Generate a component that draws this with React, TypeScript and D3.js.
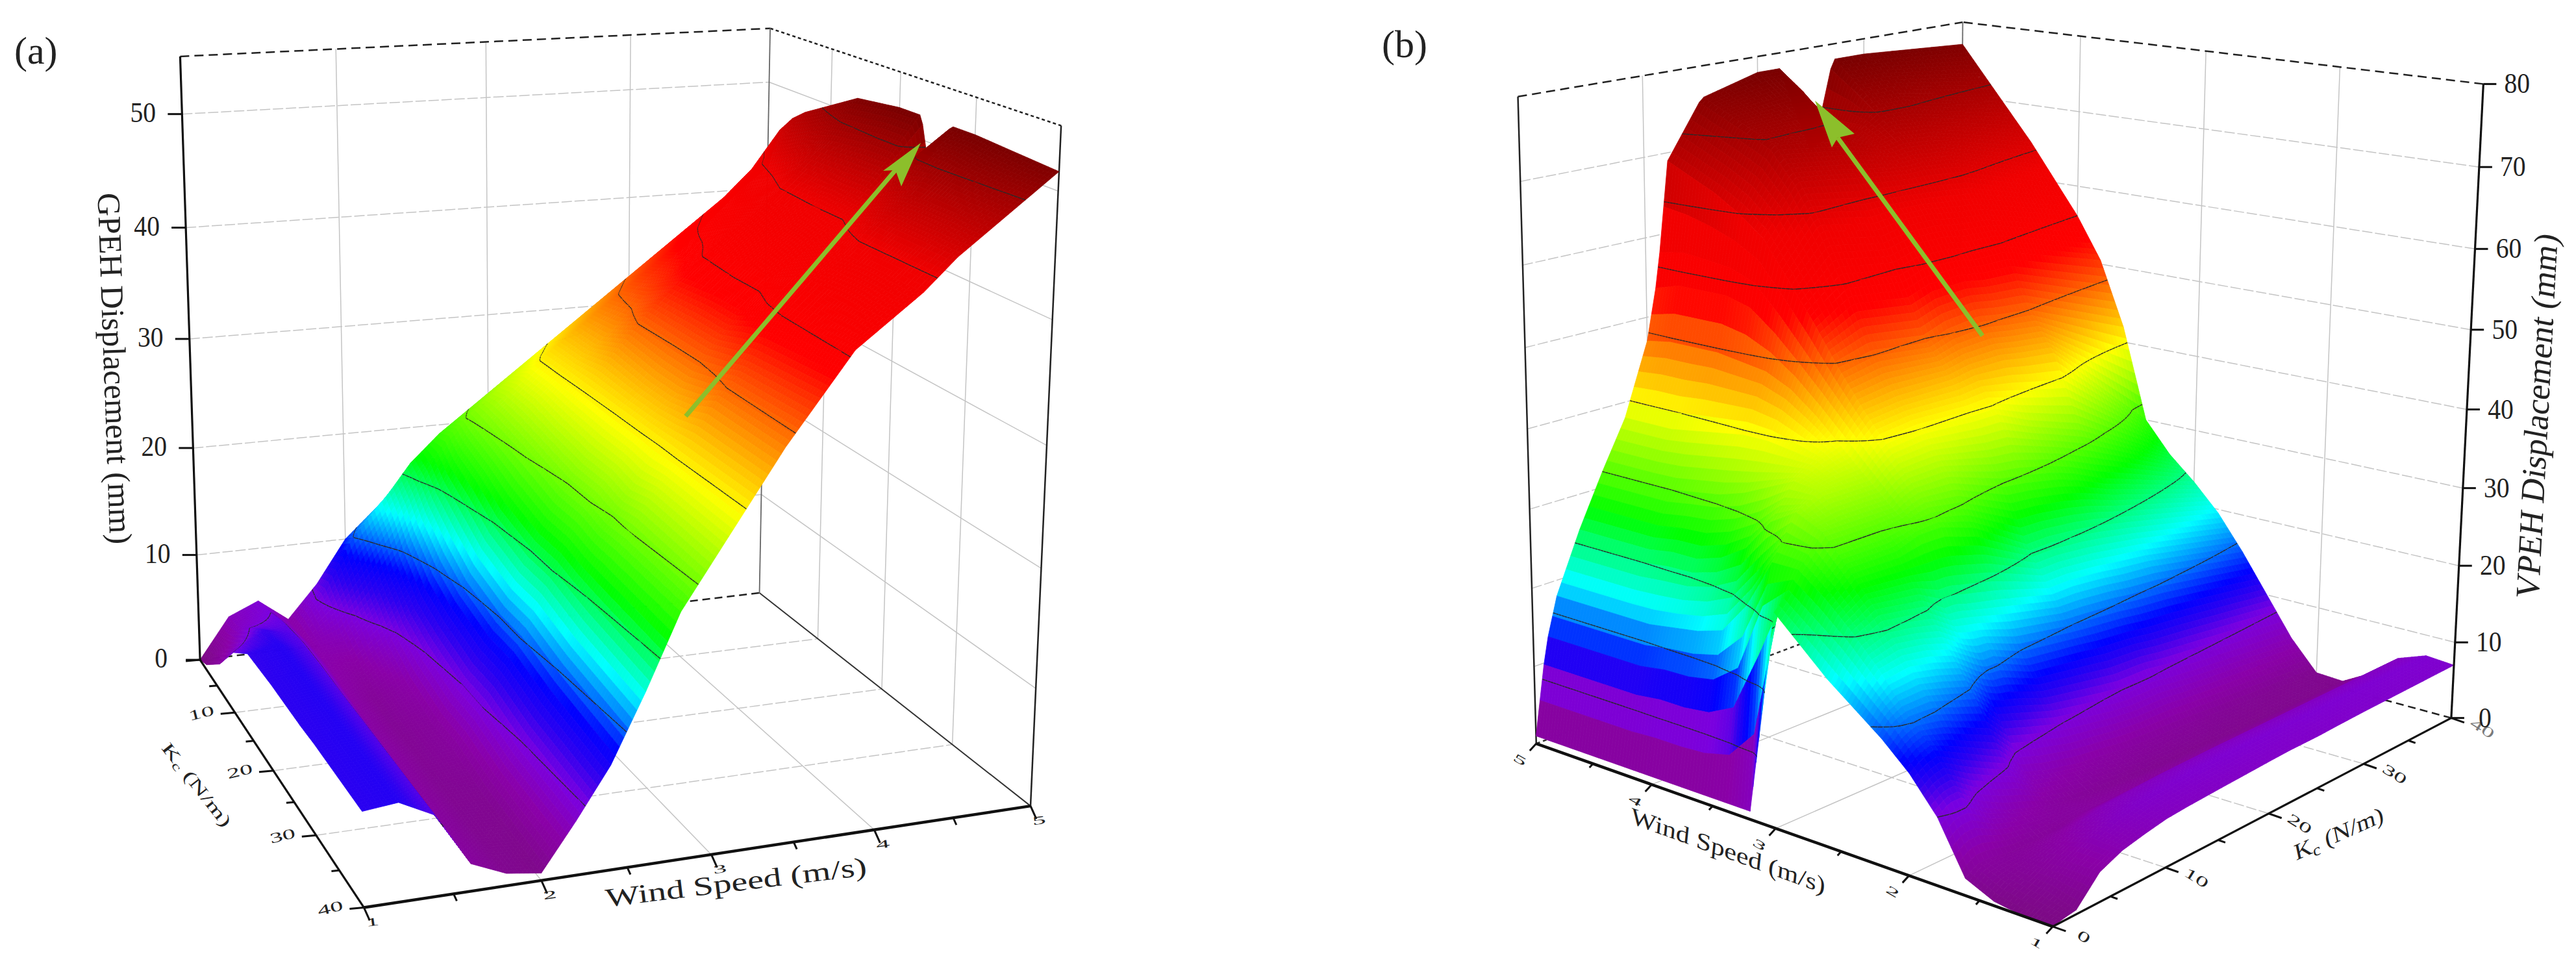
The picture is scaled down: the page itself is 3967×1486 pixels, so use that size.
import React, { useRef, useEffect } from 'react';
import * as d3 from 'd3';

// wind speed columns, shared by both surfaces
const windSpeeds = [1, 1.2, 1.4, 1.6, 1.8, 2, 2.2, 2.4, 2.6, 2.8, 3, 3.2, 3.4, 3.6, 3.8, 4, 4.2, 4.4, 4.6, 4.8, 5];

// GPEH surface, one row per Kc value
const gpehK = [0, 2, 4, 6, 10, 14, 20, 23, 24, 27, 30, 40];
const gpehZ = [
  [0, 3.8, 5, 2.9, 6, 10, 12.5, 15, 17, 19, 21, 23, 25, 27, 29, 31, 33, 35, 37.5, 40, 42],
  [0.5, 4, 5.2, 3, 6.5, 11, 14, 17.5, 20, 22, 24, 26, 28, 30, 32, 34, 36, 38, 40, 42.5, 46],
  [1.5, 4.5, 5.6, 3, 5.5, 9, 12.5, 16.5, 20.5, 23, 25, 27, 29, 31, 33, 35, 37, 39, 41, 44, 47.5],
  [2.5, 5.5, 6, 3.2, 4, 7, 10.5, 15, 19.5, 23, 25.5, 28, 30, 32, 34, 36, 38, 40, 42.5, 45.5, 48.5],
  [5.5, 7.2, 6.4, 3.2, 2.5, 4.5, 8, 13, 18.5, 22.5, 25.5, 28, 30, 32.5, 35, 37, 39.5, 41.5, 44, 47, 50],
  [7.3, 7.8, 6.5, 3, 1.6, 3, 7, 11.5, 17, 22, 25, 28, 31, 34, 36.5, 39, 41, 43, 45.5, 48, 51.5],
  [7.5, 7.9, 6.5, 2.6, 1.4, 2, 6, 10.5, 16, 21, 24.5, 28, 30.5, 34, 37, 39.5, 41.5, 43.5, 45.5, 48.5, 52],
  [7.5, 7.9, 6.5, 2.6, 1.4, 2, 6, 10.5, 16, 21, 24.5, 28, 30.5, 34, 37, 39.5, 41.5, 43.5, 45.5, 48.5, 52],
  [7.5, 7.9, 6.5, 2.6, 1.4, 2, 6, 10.5, 16, 21, 24.5, 28, 30.5, 34, 37, 39.5, 41.5, 43.5, 45.5, 47.5, 48.5],
  [7.5, 7.9, 6.5, 2.5, 1.3, 1.6, 5.5, 10, 15.5, 20.5, 24, 28, 31, 34.5, 38, 40.5, 42.5, 44.5, 46.5, 50, 52],
  [7.6, 7.9, 6.5, 2.4, 1.2, 1.2, 5, 9.5, 15, 20.5, 24.5, 28, 32, 35, 38.5, 41, 43, 45.5, 47.5, 50, 52],
  [7.6, 7.9, 6.5, 2.2, 1, 0.6, 4.4, 8.5, 14, 20, 24, 28, 32, 35.5, 39, 41, 43, 45.5, 47.5, 49.5, 51.5],
];

// VPEH surface
const vpehK = [0, 1, 2, 4, 6, 8, 10, 11, 12, 15, 20, 22, 25, 27, 30, 40];
const vpehZ = [
  [0, 0, 0.5, 2, 8, 12, 15, 17.5, 20, 23, 26, 1, 1, 1, 1, 1, 1, 1, 1, 1, 1],
  [0.3, 0.8, 1.5, 3, 9, 13, 16.5, 19.5, 22.5, 25, 27.5, 24, 15, 13, 12.5, 12.5, 12, 12, 12, 12, 12],
  [0.5, 1.5, 2, 3, 9, 13.5, 17, 21, 24.5, 27.5, 30, 30, 24, 20, 19, 18.5, 18, 18, 18, 18, 18],
  [3.5, 3.5, 3, 2.5, 6.5, 12, 17, 21.5, 26, 30, 33.5, 35, 33, 29, 27, 26, 26, 25.5, 25.5, 25.5, 25.5],
  [4.7, 5, 4, 2.5, 5, 10.5, 16, 21, 25.5, 30, 33.5, 36.5, 37, 35.5, 34, 33, 32.5, 32, 32, 32, 32],
  [5.3, 6, 5, 2.5, 4, 9, 15, 20, 25, 30, 33.5, 36.5, 38.5, 39, 39.5, 39.5, 39, 38.5, 38, 38, 38],
  [5.8, 6.6, 5.5, 3, 3, 6, 12, 18, 23, 31, 33.5, 36.5, 39.5, 42.5, 45, 46.5, 47, 47.5, 47.5, 47.5, 47],
  [5.9, 6.8, 5.6, 3, 2.8, 5.5, 11.5, 17, 23, 31, 34.5, 38, 41.5, 45, 48.5, 52, 55, 56, 56, 56, 55],
  [6, 6.9, 5.7, 3, 2.5, 5, 11, 17, 22.5, 31, 35, 39, 43, 47.5, 52.5, 57, 61.5, 64, 66, 67.5, 69],
  [6.2, 7.2, 5.9, 3, 2, 4, 9.5, 15, 21.5, 29.5, 35, 39.5, 43.5, 48.5, 55.5, 62, 67.5, 71.5, 73, 74.5, 76],
  [6.5, 7.3, 6, 3, 1.5, 3, 8, 14, 19.5, 25, 32.5, 39, 43.5, 47.5, 54.5, 60.5, 66.5, 70.5, 73, 75.5, 78],
  [6.6, 7.3, 6, 3, 1.4, 2.8, 7.5, 13.5, 19.5, 25, 32, 39, 44, 48.5, 55.5, 61, 66, 70, 72.5, 75.5, 78],
  [6.6, 7.3, 6, 3, 1.4, 2.6, 7.5, 13, 19, 24.5, 31, 37, 44, 49, 55.5, 61, 65.5, 68.5, 70, 69, 66],
  [6.7, 7.3, 6, 3, 1.3, 2.4, 7, 12.5, 18.5, 24, 30, 36, 43.5, 48.5, 55, 60.5, 65.5, 69, 72, 75, 78],
  [6.8, 7.3, 6, 3, 1.2, 2, 6.5, 12, 18, 23, 28, 34.5, 43, 48, 55, 60, 65, 68.5, 72, 75, 78],
  [7, 7.3, 6, 3, 1, 1.2, 5, 10, 15, 19.5, 23, 26, 30, 42, 50.5, 56, 60.5, 65, 69, 73, 77],
];

const rainbow = ['#7c0a84', '#8a00a8', '#7a00e0', '#2c00f0', '#0000ff', '#00ffff', '#00ff00', '#ffff00', '#ff0000', '#f00000', '#780000'];
const gpehStops = [0, 3, 5.5, 7.5, 9.5, 13.5, 18, 27, 37, 44, 52];
const vpehStops = [0, 4, 8.5, 11, 13, 20, 28, 40, 53, 62, 78];

const windTicks = [1, 2, 3, 4, 5];
const windMinor = [1.5, 2.5, 3.5, 4.5];
const kTicks = [0, 10, 20, 30, 40];
const kMinor = [5, 15, 25, 35];

// where the box corners and ticks sit on the page: [wind, Kc, z, px, py]
const gpehCamera = [
  [1, 0, 0, 311, 1016], [1, 0, 10, 304, 854], [1, 0, 20, 298, 690], [1, 0, 30, 293, 522], [1, 0, 40, 286, 351],
  [1, 0, 50, 279, 176], [1, 0, 55, 277, 87], [1, 10, 0, 360, 1097], [1, 20, 0, 415, 1187], [1, 30, 0, 485, 1288],
  [1, 40, 0, 564, 1396], [2, 40, 0, 835, 1356], [3, 40, 0, 1097, 1313], [4, 40, 0, 1347, 1280], [5, 40, 0, 1587, 1242],
  [5, 0, 0, 1168, 913], [5, 0, 55, 1188, 43], [5, 40, 55, 1635, 195], [5, 40, 10, 1594, 1060], [5, 40, 20, 1605, 874],
  [5, 40, 30, 1612, 687], [5, 40, 40, 1620, 493], [5, 40, 50, 1627, 292],
];
const vpehCamera = [
  [1, 40, 0, 3778, 1101], [1, 40, 10, 3783, 988], [1, 40, 20, 3789, 870], [1, 40, 30, 3792, 751], [1, 40, 40, 3798, 632],
  [1, 40, 50, 3805, 510], [1, 40, 60, 3810, 384], [1, 40, 70, 3816, 260], [1, 40, 80, 3822, 129],
  [1, 0, 0, 3155, 1428], [1, 10, 0, 3338, 1337], [1, 20, 0, 3495, 1252], [1, 30, 0, 3645, 1175],
  [2, 0, 0, 2934, 1349], [3, 0, 0, 2733, 1276], [4, 0, 0, 2547, 1210], [5, 0, 0, 2375, 1144],
  [5, 40, 0, 3003, 903], [5, 40, 80, 3031, 33], [5, 0, 80, 2333, 146],
];

// plain least squares for the 11 term camera
function fitCamera(pts, zTop) {
  const A = [];
  const b = [];
  pts.forEach(([w, k, z, px, py]) => {
    const u = (w - 1) / 4, v = k / 40, s = z / zTop, x = px / 1000, y = py / 1000;
    A.push([u, v, s, 1, 0, 0, 0, 0, -x * u, -x * v, -x * s]); b.push(x);
    A.push([0, 0, 0, 0, u, v, s, 1, -y * u, -y * v, -y * s]); b.push(y);
  });
  const n = 11;
  const M = d3.range(n).map(i => d3.range(n + 1).map(j =>
    j < n ? d3.sum(A, r => r[i] * r[j]) : d3.sum(A, (r, q) => r[i] * b[q])));
  for (let c = 0; c < n; c++) {
    let best = c;
    for (let r = c + 1; r < n; r++) if (Math.abs(M[r][c]) > Math.abs(M[best][c])) best = r;
    [M[c], M[best]] = [M[best], M[c]];
    for (let r = 0; r < n; r++) {
      if (r === c) continue;
      const f = M[r][c] / M[c][c];
      for (let j = c; j <= n; j++) M[r][j] -= f * M[c][j];
    }
  }
  const p = M.map((r, i) => r[n] / r[i]);
  return (w, k, z) => {
    const u = (w - 1) / 4, v = k / 40, s = z / zTop;
    const d = p[8] * u + p[9] * v + p[10] * s + 1;
    return [1000 * (p[0] * u + p[1] * v + p[2] * s + p[3]) / d, 1000 * (p[4] * u + p[5] * v + p[6] * s + p[7]) / d];
  };
}

function sampleSurface(grid, ks, w, k) {
  const i = Math.min(d3.bisectRight(windSpeeds, w) - 1, windSpeeds.length - 2);
  const j = Math.min(d3.bisectRight(ks, k) - 1, ks.length - 2);
  const a = (w - windSpeeds[i]) / (windSpeeds[i + 1] - windSpeeds[i]);
  const c = (k - ks[j]) / (ks[j + 1] - ks[j]);
  return (1 - c) * ((1 - a) * grid[j][i] + a * grid[j][i + 1]) + c * ((1 - a) * grid[j + 1][i] + a * grid[j + 1][i + 1]);
}

const panels = [
  {
    label: '(a)', labelPos: [22, 98],
    camera: gpehCamera, ks: gpehK, grid: gpehZ, stops: gpehStops, zTop: 55, zTicks: [0, 10, 20, 30, 40, 50],
    levels: d3.range(1, 10).map(i => i * 5.5), farK: 0, nearK: 40,
    kOrder: d3.ascending,
    zTick: [-22, 0], zLabel: [-60, 12], zAnchor: 'middle',
    kTick: [-22, 2], kLabel: [-50, 8], kLabelTf: 'rotate(-14) scale(1,0.55)',
    wTick: [9, 20], wLabel: [14, 18], wLabelTf: 'rotate(-8) scale(1,0.42)',
    zTitle: { text: 'GPEH Displacement (mm)', at: [160, 568], tf: 'rotate(88)', size: 50 },
    wTitle: { at: [1135, 1372], tf: 'rotate(-7) scale(1,0.72)', size: 56 },
    kTitle: { at: [296, 1214], tf: 'rotate(52) scale(1,0.62)', size: 42 },
    arrow: { tail: [1056, 641], tip: [1418, 220], wings: [[1360, 263], [1388, 287]], neck: [1379, 262] },
  },
  {
    label: '(b)', labelPos: [2128, 88],
    camera: vpehCamera, ks: vpehK, grid: vpehZ, stops: vpehStops, zTop: 80, zTicks: [0, 10, 20, 30, 40, 50, 60, 70, 80],
    levels: d3.range(1, 10).map(i => i * 8), farK: 40, nearK: 0,
    kOrder: d3.descending,
    zTick: [20, 0], zLabel: [52, 14], zAnchor: 'middle',
    kTick: [20, 7], kLabel: [44, 22], kLabelTf: 'rotate(32) scale(1,0.55)',
    wTick: [-10, 11], wLabel: [-28, 20], wLabelTf: 'rotate(30) scale(1,0.42)',
    zTitle: { text: 'VPEH Displacement (mm)', at: [3924, 644], tf: 'rotate(-87) skewX(-8)', size: 52 },
    wTitle: { at: [2660, 1322], tf: 'rotate(20) skewX(14) scale(1,0.8)', size: 44 },
    kTitle: { at: [3604, 1295], tf: 'rotate(-24) skewX(-12) scale(1,0.85)', size: 40 },
    arrow: { tail: [3053, 517], tip: [2795, 155], wings: [[2821, 227], [2856, 206]], neck: [2830, 212] },
  },
];

const FONT = "'Liberation Serif', serif";
const lineGen = d3.line();

function drawPanel(svg, cfg) {
  const project = fitCamera(cfg.camera, cfg.zTop);
  const g = svg.append('g');
  const seg = (a, b, stroke, width, dash) =>
    g.append('path').attr('d', lineGen([project(...a), project(...b)])).attr('fill', 'none')
      .attr('stroke', stroke).attr('stroke-width', width).attr('stroke-dasharray', dash || null);

  const { farK, nearK, zTop } = cfg;
  const gridC = '#c4c4c4';
  // walls and floor
  [2, 3, 4].forEach(w => {
    seg([w, farK, 0], [w, farK, zTop], gridC, 1.5);
    seg([w, 0, 0], [w, 40, 0], gridC, 1.5);
  });
  [10, 20, 30].forEach(k => {
    seg([5, k, 0], [5, k, zTop], gridC, 1.5);
    seg([1, k, 0], [5, k, 0], gridC, 1.5, '16 4');
  });
  cfg.zTicks.filter(z => z > 0 && z < zTop).forEach(z => {
    seg([1, farK, z], [5, farK, z], gridC, 1.5, '16 4');
    seg([5, 0, z], [5, 40, z], gridC, 1.5, farK === 0 ? null : '16 4');
  });
  // box edges
  seg([1, farK, zTop], [5, farK, zTop], '#222', 2.5, '14 8');
  seg([5, 0, zTop], [5, 40, zTop], '#222', 2.5, farK === 0 ? '5 4' : '14 8');
  seg([1, farK, 0], [5, farK, 0], '#222', 2.5, '12 7');
  seg([5, 0, 0], [5, 40, 0], '#333', farK === 0 ? 2 : 2.5, farK === 0 ? null : '6 5');
  seg([5, farK, 0], [5, farK, zTop], '#666', 1.8);
  seg([5, nearK, 0], [5, nearK, zTop], '#222', 2.5);

  // surface, back to front
  const fineW = d3.range(5, 1, -0.025).concat([1]);
  const fineK = d3.range(0, 40, 0.4).concat([40]).sort(cfg.kOrder);
  const color = d3.scaleLinear().domain(cfg.stops).range(rainbow).clamp(true);
  const items = [];
  for (let a = 0; a < fineW.length - 1; a++) {
    for (let b = 0; b < fineK.length - 1; b++) {
      const corners = [[fineW[a], fineK[b]], [fineW[a + 1], fineK[b]], [fineW[a + 1], fineK[b + 1]], [fineW[a], fineK[b + 1]]]
        .map(([w, k]) => {
          const z = sampleSurface(cfg.grid, cfg.ks, w, k);
          return { z, p: project(w, k, z) };
        });
      const c = color(d3.mean(corners, d => d.z));
      items.push({ d: lineGen(corners.map(d => d.p)) + 'Z', fill: c, stroke: c, w: 0.8 });
      cfg.levels.forEach(level => {
        const hits = [];
        corners.forEach((q, i) => {
          const r = corners[(i + 1) % 4];
          if ((q.z < level) !== (r.z < level)) {
            const t = (level - q.z) / (r.z - q.z);
            hits.push([q.p[0] + t * (r.p[0] - q.p[0]), q.p[1] + t * (r.p[1] - q.p[1])]);
          }
        });
        if (hits.length >= 2) items.push({ d: lineGen(hits.slice(0, 2)), fill: 'none', stroke: '#2a2a2a', w: 1.4 });
      });
    }
  }
  g.append('g').selectAll('path').data(items).join('path')
    .attr('d', d => d.d).attr('fill', d => d.fill).attr('stroke', d => d.stroke).attr('stroke-width', d => d.w);

  // axes on top
  seg([1, farK, 0], [1, farK, zTop], '#111', 3.2);
  seg([1, 0, 0], [1, 40, 0], '#111', 3.2);
  seg([1, nearK, 0], [5, nearK, 0], '#111', 4.5);

  const tick = (pt, dir, len) => {
    const [x, y] = project(...pt);
    g.append('path').attr('d', lineGen([[x, y], [x + dir[0] * len, y + dir[1] * len]]))
      .attr('stroke', '#111').attr('stroke-width', 3).attr('fill', 'none');
  };
  const text = (str, x, y, size, tf, anchor = 'middle') =>
    g.append('text').attr('transform', `translate(${x},${y}) ${tf || ''}`).attr('text-anchor', anchor)
      .attr('font-family', FONT).attr('font-size', size).attr('fill', '#222').text(str);

  cfg.zTicks.forEach(z => {
    const [x, y] = project(1, farK, z);
    tick([1, farK, z], cfg.zTick, 1);
    text(z, x + cfg.zLabel[0], y + cfg.zLabel[1], 44, 'scale(0.9,1)');
  });
  kTicks.forEach(k => {
    const [x, y] = project(1, k, 0);
    tick([1, k, 0], cfg.kTick, 1);
    if (k !== farK) text(k, x + cfg.kLabel[0], y + cfg.kLabel[1], 40, cfg.kLabelTf);
  });
  if (farK === 40) {
    const [x, y] = project(1, 40, 0);
    text(40, x + cfg.kLabel[0], y + cfg.kLabel[1], 40, cfg.kLabelTf).attr('opacity', 0.6);
  }
  kMinor.forEach(k => tick([1, k, 0], cfg.kTick, 0.55));
  windTicks.forEach(w => {
    const [x, y] = project(w, nearK, 0);
    tick([w, nearK, 0], cfg.wTick, 1);
    text(w, x + cfg.wLabel[0], y + cfg.wLabel[1] + 10, 42, cfg.wLabelTf);
  });
  windMinor.forEach(w => tick([w, nearK, 0], cfg.wTick, 0.55));

  text(cfg.zTitle.text, cfg.zTitle.at[0], cfg.zTitle.at[1], cfg.zTitle.size, cfg.zTitle.tf);
  text('Wind Speed (m/s)', cfg.wTitle.at[0], cfg.wTitle.at[1], cfg.wTitle.size, cfg.wTitle.tf);
  const kt = text('', cfg.kTitle.at[0], cfg.kTitle.at[1], cfg.kTitle.size, cfg.kTitle.tf);
  kt.append('tspan').text('K');
  kt.append('tspan').attr('dy', '0.25em').attr('font-size', '0.7em').text('c');
  kt.append('tspan').attr('dy', '-0.18em').text(' (N/m)');
  text(cfg.label, cfg.labelPos[0], cfg.labelPos[1], 60, '', 'start');

  // green arrow
  const { tail, tip, wings, neck } = cfg.arrow;
  g.append('path').attr('d', lineGen([tail, neck])).attr('stroke', '#8cbf2b').attr('stroke-width', 7).attr('fill', 'none');
  g.append('path').attr('d', lineGen([tip, wings[0], neck, wings[1]]) + 'Z').attr('fill', '#8cbf2b');
}

export default function App() {
  const svgRef = useRef(null);

  useEffect(() => {
    const svg = d3.select(svgRef.current);
    svg.selectAll('*').remove();
    svg.append('rect').attr('width', 3967).attr('height', 1486).attr('fill', '#fff');
    panels.forEach(cfg => drawPanel(svg, cfg));
  }, []);

  return <svg ref={svgRef} width={3967} height={1486} style={{ position: 'absolute', left: 0, top: 0, display: 'block' }} />;
}
